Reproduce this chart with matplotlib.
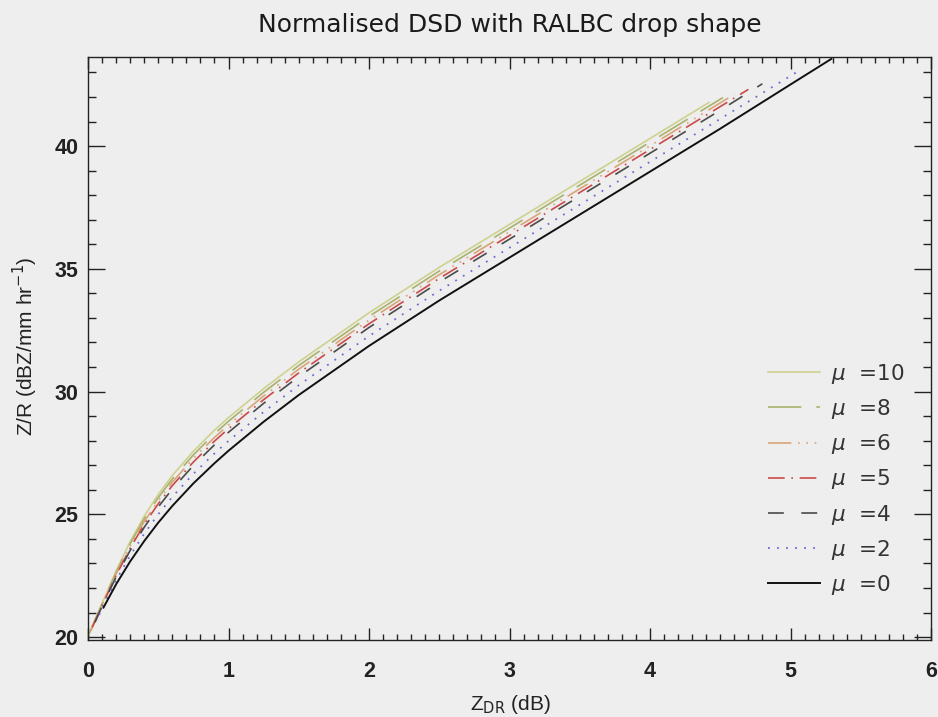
import numpy as np
import matplotlib
matplotlib.use("Agg")
import matplotlib.pyplot as plt
from matplotlib.ticker import MultipleLocator

plt.rcParams['mathtext.fontset'] = 'dejavusans'

# curves, one per mu value
x_mu10 = [0.0, 0.1, 0.2, 0.3, 0.4, 0.5, 0.6, 0.75, 0.9, 1.0, 1.25, 1.5, 2.0, 2.5, 3.0, 3.5, 4.0, 4.42]
y_mu10 = [20.05, 21.37, 22.69, 23.89, 24.92, 25.81, 26.58, 27.57, 28.43, 28.94, 30.12, 31.21, 33.21, 35.06, 36.81, 38.56, 40.31, 41.78]
x_mu8 = [0.01, 0.1, 0.2, 0.3, 0.4, 0.5, 0.6, 0.75, 0.9, 1.0, 1.25, 1.5, 2.0, 2.5, 3.0, 3.5, 4.0, 4.52]
y_mu8 = [20.15, 21.34, 22.63, 23.8, 24.81, 25.68, 26.44, 27.42, 28.28, 28.79, 29.97, 31.06, 33.06, 34.91, 36.66, 38.41, 40.16, 41.98]
x_mu6 = [0.02, 0.1, 0.2, 0.3, 0.4, 0.5, 0.6, 0.75, 0.9, 1.0, 1.25, 1.5, 2.0, 2.5, 3.0, 3.5, 4.0, 4.6]
y_mu6 = [20.25, 21.31, 22.57, 23.71, 24.7, 25.55, 26.31, 27.28, 28.13, 28.64, 29.82, 30.91, 32.91, 34.76, 36.51, 38.26, 40.01, 42.11]
x_mu5 = [0.03, 0.1, 0.2, 0.3, 0.4, 0.5, 0.6, 0.75, 0.9, 1.0, 1.25, 1.5, 2.0, 2.5, 3.0, 3.5, 4.0, 4.5, 4.7]
y_mu5 = [20.4, 21.28, 22.51, 23.62, 24.59, 25.43, 26.17, 27.13, 27.98, 28.49, 29.67, 30.76, 32.76, 34.61, 36.36, 38.11, 39.86, 41.61, 42.31]
x_mu4 = [0.05, 0.1, 0.2, 0.3, 0.4, 0.5, 0.6, 0.75, 0.9, 1.0, 1.25, 1.5, 2.0, 2.5, 3.0, 3.5, 4.0, 4.5, 4.8]
y_mu4 = [20.6, 21.25, 22.45, 23.53, 24.47, 25.3, 26.03, 26.99, 27.83, 28.34, 29.52, 30.61, 32.61, 34.46, 36.21, 37.96, 39.71, 41.46, 42.54]
x_mu2 = [0.08, 0.1, 0.2, 0.3, 0.4, 0.5, 0.6, 0.75, 0.9, 1.0, 1.25, 1.5, 2.0, 2.5, 3.0, 3.5, 4.0, 4.5, 5.04]
y_mu2 = [20.9, 21.18, 22.31, 23.32, 24.21, 25.0, 25.71, 26.65, 27.48, 27.99, 29.17, 30.26, 32.26, 34.11, 35.86, 37.61, 39.36, 41.11, 43.0]
x_mu0 = [0.11, 0.2, 0.3, 0.4, 0.5, 0.6, 0.75, 0.9, 1.0, 1.25, 1.5, 2.0, 2.5, 3.0, 3.5, 4.0, 4.5, 5.0, 5.29]
y_mu0 = [21.2, 22.15, 23.08, 23.91, 24.66, 25.34, 26.26, 27.08, 27.59, 28.77, 29.86, 31.86, 33.71, 35.46, 37.21, 38.96, 40.71, 42.51, 43.55]

labels = ['10', '8', '6', '5', '4', '2', '0']
xs = [x_mu10, x_mu8, x_mu6, x_mu5, x_mu4, x_mu2, x_mu0]
ys = [y_mu10, y_mu8, y_mu6, y_mu5, y_mu4, y_mu2, y_mu0]
colors = ['#cfd18f', '#a9b26c', '#d9a476', '#c94a4a', '#4a4a4a', '#6a6ad6', '#111111']
widths = [1.2, 1.2, 1.2, 1.2, 1.2, 1.3, 1.4]
dashes = [None, (20, 9), (14, 4, 1, 4, 1, 4, 1, 4), (10, 4, 1, 4), (9.5, 10.5), (1, 4), None]

bg = '#eeeeee'
fig = plt.figure(figsize=(9.38, 7.17), dpi=100, facecolor=bg)
ax = fig.add_axes([88/938, 1-640/717, 843/938, 583/717], facecolor=bg)

for x, y, c, w, d, lab in zip(xs, ys, colors, widths, dashes, labels):
    line, = ax.plot(x, y, color=c, lw=w, label=r'$\mu$  =' + lab)
    if d is not None:
        line.set_dashes(d)

ax.set_xlim(0, 6)
ax.set_ylim(19.88, 43.63)
ax.xaxis.set_major_locator(MultipleLocator(1))
ax.xaxis.set_minor_locator(MultipleLocator(0.1))
ax.yaxis.set_major_locator(MultipleLocator(5))
ax.yaxis.set_minor_locator(MultipleLocator(1))
ax.tick_params(axis='both', which='both', direction='in', top=True, right=True,
               color='#222222', width=1.0)
ax.tick_params(axis='x', which='major', length=8.3, pad=15)
ax.tick_params(axis='x', which='minor', length=4.2)
ax.tick_params(axis='y', which='major', length=12.2, pad=7)
ax.tick_params(axis='y', which='minor', length=6.1)
for lbl in ax.get_xticklabels() + ax.get_yticklabels():
    lbl.set_fontfamily('Liberation Sans')
    lbl.set_fontsize(15.5)
    lbl.set_fontweight('bold')
    lbl.set_color('#222222')
for s in ax.spines.values():
    s.set_linewidth(1.0)
    s.set_color('#222222')

leg = ax.legend(loc='lower left', bbox_to_anchor=((768-88)/843, (640-597)/583),
                frameon=False, borderpad=0, borderaxespad=0,
                handlelength=2.42, handletextpad=0.5, labelspacing=0.52,
                prop={'family': 'DejaVu Sans', 'size': 15.5})
for t in leg.get_texts():
    t.set_color('#333333')

fig.text(510/938, 1-32/717, 'Normalised DSD with RALBC drop shape',
         ha='center', va='baseline', fontsize=18, fontfamily='DejaVu Sans', color='#1a1a1a')
fig.text(510/938, 1-705/717, r'Z$_{\mathrm{DR}}$ (dB)', ha='center', va='center',
         fontsize=15, fontfamily='Liberation Sans', color='#222222')
fig.text(25/938, 1-346/717, r'Z/R (dBZ/mm hr$^{-1}$)', ha='center', va='center',
         rotation=90, fontsize=15, fontfamily='Liberation Sans', color='#222222')

fig.savefig('out.png', dpi=100, facecolor=bg)
